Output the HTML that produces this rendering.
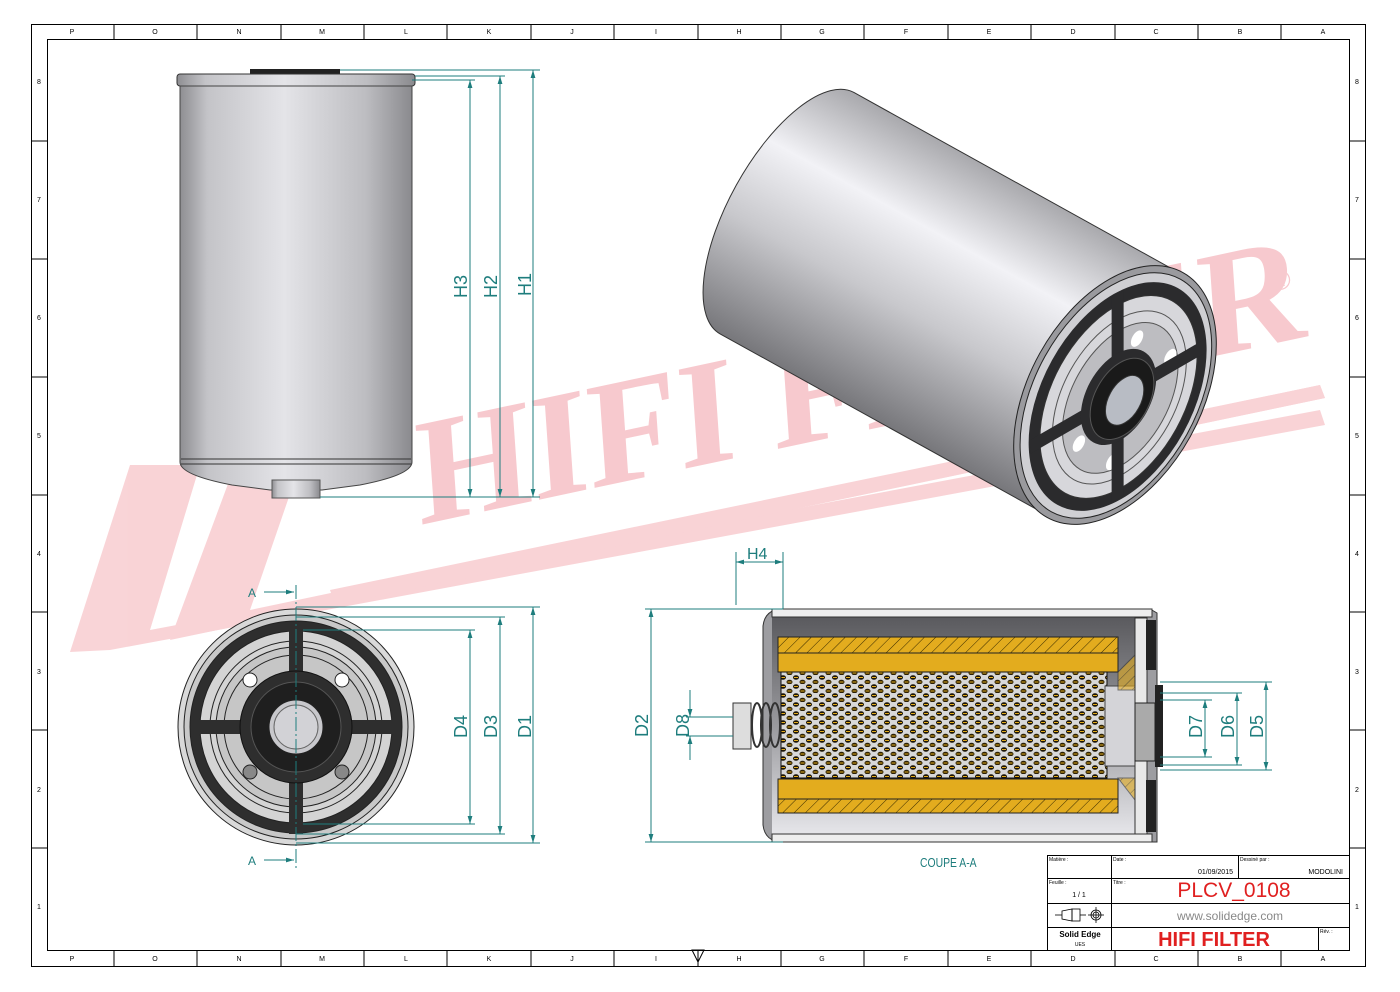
<!DOCTYPE html>
<html><head><meta charset="utf-8"><style>
html,body{margin:0;padding:0;background:#fff;}
svg{display:block;font-family:"Liberation Sans",sans-serif;}
</style></head><body>
<svg width="1400" height="992" viewBox="0 0 1400 992" xmlns="http://www.w3.org/2000/svg">
<defs>
<linearGradient id="gv" x1="0" y1="0" x2="1" y2="0">
<stop offset="0" stop-color="#8e8e92"/><stop offset="0.12" stop-color="#c4c4c8"/><stop offset="0.45" stop-color="#e4e4e8"/><stop offset="0.8" stop-color="#bdbdc1"/><stop offset="1" stop-color="#8a8a8e"/></linearGradient>
<linearGradient id="g3" x1="0" y1="0" x2="0" y2="1">
<stop offset="0" stop-color="#a9a9ad"/><stop offset="0.3" stop-color="#f2f2f6"/><stop offset="0.6" stop-color="#c8c8cc"/><stop offset="1" stop-color="#77777b"/></linearGradient>
<linearGradient id="gs" x1="0" y1="0" x2="0" y2="1">
<stop offset="0" stop-color="#5a5a5e"/><stop offset="0.5" stop-color="#9a9a9e"/><stop offset="1" stop-color="#e6e6ea"/></linearGradient>
<pattern id="hatch" width="8" height="8" patternUnits="userSpaceOnUse" patternTransform="rotate(45)"><rect width="8" height="8" fill="#e3ac1e"/><line x1="0" y1="0" x2="0" y2="8" stroke="#3a2c00" stroke-width="1"/></pattern>
<pattern id="mesh" width="13" height="9" patternUnits="userSpaceOnUse"><rect width="13" height="9" fill="#d8d8d8"/><ellipse cx="3" cy="2.5" rx="3" ry="2.3" fill="#1b1405"/><ellipse cx="9.5" cy="7" rx="3" ry="2.3" fill="#2a1f05"/><rect x="1" y="2" width="4" height="1" fill="#e3ac1e"/><rect x="7.5" y="6.5" width="4" height="1" fill="#e3ac1e"/></pattern>
<marker id="ar" viewBox="0 0 10 10" refX="10" refY="5" markerWidth="8" markerHeight="8" orient="auto-start-reverse"><path d="M0,2 L10,5 L0,8 z" fill="#1e7d7d"/></marker>
<clipPath id="faceclip"><ellipse cx="0" cy="0" rx="74" ry="122"/></clipPath>
</defs>

<!-- watermark -->
<g fill="#f7c5c9" opacity="0.75">
<polygon points="70,652 130,465 200,465 150,630 1320,410 1325,425 110,650"/>
<polygon points="170,640 235,465 300,465 250,610 1320,385 1325,398"/>
<polygon points="330,590 1320,385 1325,398 335,605"/>
<text x="0" y="0" transform="translate(420,525) rotate(-12) skewX(-8)" font-family="Liberation Serif,serif" font-weight="bold" font-size="150" fill="#f5b8be">HIFI FILTER</text>
<text x="1270" y="290" font-size="28" fill="#f5b8be">®</text>
</g>

<!-- borders -->
<rect x="31.5" y="24.5" width="1334" height="942" fill="none" stroke="#000" stroke-width="1"/>
<rect x="47.5" y="39.5" width="1302" height="911" fill="none" stroke="#000" stroke-width="1"/>
<g stroke="#000" stroke-width="1">
<line x1="114" y1="24" x2="114" y2="39"/><line x1="197" y1="24" x2="197" y2="39"/><line x1="281" y1="24" x2="281" y2="39"/><line x1="364" y1="24" x2="364" y2="39"/><line x1="447" y1="24" x2="447" y2="39"/><line x1="531" y1="24" x2="531" y2="39"/><line x1="614" y1="24" x2="614" y2="39"/><line x1="698" y1="24" x2="698" y2="39"/><line x1="781" y1="24" x2="781" y2="39"/><line x1="864" y1="24" x2="864" y2="39"/><line x1="948" y1="24" x2="948" y2="39"/><line x1="1031" y1="24" x2="1031" y2="39"/><line x1="1115" y1="24" x2="1115" y2="39"/><line x1="1198" y1="24" x2="1198" y2="39"/><line x1="1281" y1="24" x2="1281" y2="39"/>
<line x1="114" y1="950" x2="114" y2="966"/><line x1="197" y1="950" x2="197" y2="966"/><line x1="281" y1="950" x2="281" y2="966"/><line x1="364" y1="950" x2="364" y2="966"/><line x1="447" y1="950" x2="447" y2="966"/><line x1="531" y1="950" x2="531" y2="966"/><line x1="614" y1="950" x2="614" y2="966"/><line x1="698" y1="950" x2="698" y2="966"/><line x1="781" y1="950" x2="781" y2="966"/><line x1="864" y1="950" x2="864" y2="966"/><line x1="948" y1="950" x2="948" y2="966"/><line x1="1031" y1="950" x2="1031" y2="966"/><line x1="1115" y1="950" x2="1115" y2="966"/><line x1="1198" y1="950" x2="1198" y2="966"/><line x1="1281" y1="950" x2="1281" y2="966"/>
<line x1="31" y1="141" x2="47" y2="141"/><line x1="31" y1="259" x2="47" y2="259"/><line x1="31" y1="377" x2="47" y2="377"/><line x1="31" y1="495" x2="47" y2="495"/><line x1="31" y1="612" x2="47" y2="612"/><line x1="31" y1="730" x2="47" y2="730"/><line x1="31" y1="848" x2="47" y2="848"/>
<line x1="1349" y1="141" x2="1365" y2="141"/><line x1="1349" y1="259" x2="1365" y2="259"/><line x1="1349" y1="377" x2="1365" y2="377"/><line x1="1349" y1="495" x2="1365" y2="495"/><line x1="1349" y1="612" x2="1365" y2="612"/><line x1="1349" y1="730" x2="1365" y2="730"/><line x1="1349" y1="848" x2="1365" y2="848"/>
</g>
<g font-size="7" fill="#000" text-anchor="middle">
<text x="72" y="34">P</text><text x="155" y="34">O</text><text x="239" y="34">N</text><text x="322" y="34">M</text><text x="406" y="34">L</text><text x="489" y="34">K</text><text x="572" y="34">J</text><text x="656" y="34">I</text><text x="739" y="34">H</text><text x="822" y="34">G</text><text x="906" y="34">F</text><text x="989" y="34">E</text><text x="1073" y="34">D</text><text x="1156" y="34">C</text><text x="1240" y="34">B</text><text x="1323" y="34">A</text>
<text x="72" y="961">P</text><text x="155" y="961">O</text><text x="239" y="961">N</text><text x="322" y="961">M</text><text x="406" y="961">L</text><text x="489" y="961">K</text><text x="572" y="961">J</text><text x="656" y="961">I</text><text x="739" y="961">H</text><text x="822" y="961">G</text><text x="906" y="961">F</text><text x="989" y="961">E</text><text x="1073" y="961">D</text><text x="1156" y="961">C</text><text x="1240" y="961">B</text><text x="1323" y="961">A</text>
<text x="39" y="84">8</text><text x="39" y="202">7</text><text x="39" y="320">6</text><text x="39" y="438">5</text><text x="39" y="556">4</text><text x="39" y="674">3</text><text x="39" y="792">2</text><text x="39" y="909">1</text>
<text x="1357" y="84">8</text><text x="1357" y="202">7</text><text x="1357" y="320">6</text><text x="1357" y="438">5</text><text x="1357" y="556">4</text><text x="1357" y="674">3</text><text x="1357" y="792">2</text><text x="1357" y="909">1</text>
</g>
<path d="M692,950 L704,950 L698,962 z" fill="none" stroke="#000"/>

<!-- top-left side view -->
<rect x="250" y="69" width="90" height="6" fill="#222"/>
<rect x="177" y="74" width="238" height="12" rx="3" fill="url(#gv)" stroke="#333"/>
<path d="M180,86 L412,86 L412,462 Q412,475 360,485 L322,490 L270,490 L232,485 Q180,475 180,462 Z" fill="url(#gv)" stroke="#444"/>
<line x1="181" y1="459" x2="411" y2="459" stroke="#333"/>
<line x1="181" y1="464" x2="411" y2="464" stroke="#333"/>
<rect x="272" y="480" width="48" height="18" fill="url(#gv)" stroke="#555"/>

<g stroke="#1e7d7d" stroke-width="1" fill="none">
<line x1="340" y1="70" x2="540" y2="70"/><line x1="415" y1="76" x2="505" y2="76"/><line x1="412" y1="80" x2="475" y2="80"/><line x1="320" y1="497" x2="540" y2="497"/>
<line x1="470" y1="80" x2="470" y2="497" marker-start="url(#ar)" marker-end="url(#ar)"/>
<line x1="500" y1="76" x2="500" y2="497" marker-start="url(#ar)" marker-end="url(#ar)"/>
<line x1="533" y1="70" x2="533" y2="497" marker-start="url(#ar)" marker-end="url(#ar)"/>
</g>
<g fill="#1e7d7d" font-size="18">
<text transform="translate(467,298) rotate(-90)">H3</text>
<text transform="translate(497,298) rotate(-90)">H2</text>
<text transform="translate(531,296) rotate(-90)">H1</text>
</g>

<!-- 3D view -->
<g transform="translate(1115,395) rotate(29)">
<path d="M-375,-138 L0,-138 L0,138 L-375,138 A58,138 0 0 1 -375,-138 Z" fill="url(#g3)" stroke="#333"/>
<ellipse cx="0" cy="0" rx="86" ry="140" fill="#9a9a9e" stroke="#222"/>
<ellipse cx="1" cy="0" rx="81" ry="133" fill="#cfcfd3" stroke="#222"/>
<ellipse cx="3" cy="0" rx="75" ry="124" fill="#2b2b2d"/>
<ellipse cx="4" cy="0" rx="66" ry="110" fill="#d7d7db" stroke="#333"/>
<ellipse cx="5" cy="0" rx="56" ry="94" fill="none" stroke="#555"/>
<ellipse cx="6" cy="0" rx="48" ry="82" fill="#bdbdc1" stroke="#555"/>
<ellipse cx="-8" cy="-60" rx="5" ry="9" fill="#fff"/><ellipse cx="30" cy="-60" rx="5" ry="9" fill="#fff"/>
<ellipse cx="-8" cy="60" rx="5" ry="9" fill="#fff"/><ellipse cx="30" cy="60" rx="5" ry="9" fill="#fff"/>
<g clip-path="url(#faceclip)" transform="translate(3,0)">
<g transform="rotate(-29)"><rect x="-6" y="-140" width="12" height="280" fill="#2b2b2d"/></g>
<g transform="rotate(-29)"><rect x="-140" y="-6" width="280" height="12" fill="#2b2b2d" transform="rotate(-30)"/></g>
</g>
<ellipse cx="4" cy="0" rx="32" ry="52" fill="#2b2b2d"/>
<ellipse cx="8" cy="0" rx="27" ry="44" fill="#1a1a1a" stroke="#555"/>
<ellipse cx="11" cy="0" rx="16" ry="27" fill="#b8bcc4" stroke="#333"/>
</g>

<!-- front view -->
<g stroke="#222" stroke-width="1">
<circle cx="296" cy="727" r="118" fill="#d9d9d9"/>
<circle cx="296" cy="727" r="112" fill="#c8c8c8"/>
<circle cx="296" cy="727" r="106" fill="#2e2e2e"/>
<circle cx="296" cy="727" r="96" fill="#d4d4d4"/>
<circle cx="296" cy="727" r="86" fill="none"/>
<circle cx="296" cy="727" r="80" fill="#c6c6c6"/>
<circle cx="296" cy="727" r="72" fill="none"/>
</g>
<rect x="289" y="628" width="14" height="206" fill="#2e2e2e"/>
<rect x="198" y="720" width="196" height="14" fill="#2e2e2e"/>
<g fill="#fff" stroke="#222"><circle cx="250" cy="680" r="7"/><circle cx="342" cy="680" r="7"/><circle cx="250" cy="772" r="7" fill="#888"/><circle cx="342" cy="772" r="7" fill="#888"/></g>
<circle cx="296" cy="727" r="56" fill="#2e2e2e" stroke="#111"/>
<circle cx="296" cy="727" r="45" fill="#1f1f1f" stroke="#555"/>
<circle cx="296" cy="727" r="27" fill="#c8c8cc" stroke="#222"/>
<circle cx="296" cy="727" r="22" fill="#d2d2d6" stroke="#666"/>
<line x1="296" y1="585" x2="296" y2="868" stroke="#1e7d7d" stroke-dasharray="14,3,2,3"/>
<g stroke="#1e7d7d" fill="none">
<line x1="264" y1="592" x2="294" y2="592" marker-end="url(#ar)"/>
<line x1="264" y1="860" x2="294" y2="860" marker-end="url(#ar)"/>
<line x1="296" y1="607" x2="540" y2="607"/><line x1="296" y1="617" x2="505" y2="617"/><line x1="303" y1="630" x2="475" y2="630"/>
<line x1="303" y1="824" x2="475" y2="824"/><line x1="296" y1="834" x2="505" y2="834"/><line x1="296" y1="843" x2="540" y2="843"/>
<line x1="470" y1="630" x2="470" y2="824" marker-start="url(#ar)" marker-end="url(#ar)"/>
<line x1="500" y1="617" x2="500" y2="834" marker-start="url(#ar)" marker-end="url(#ar)"/>
<line x1="533" y1="607" x2="533" y2="843" marker-start="url(#ar)" marker-end="url(#ar)"/>
</g>
<g fill="#1e7d7d" font-size="18">
<text x="248" y="597" font-size="12">A</text><text x="248" y="865" font-size="12">A</text>
<text transform="translate(467,738) rotate(-90)">D4</text>
<text transform="translate(497,738) rotate(-90)">D3</text>
<text transform="translate(531,738) rotate(-90)">D1</text>
</g>

<!-- section view -->
<path d="M783,609 L1150,609 L1157,613 L1157,842 L783,842 Q765,842 763,825 L763,626 Q765,609 783,609 Z" fill="#9d9da1" stroke="#333"/>
<rect x="772" y="617" width="368" height="218" fill="url(#gs)"/>
<rect x="772" y="609" width="380" height="8" fill="#eee" stroke="#333"/>
<rect x="772" y="834" width="380" height="8" fill="#eee" stroke="#333"/>
<rect x="778" y="637" width="340" height="16" fill="url(#hatch)" stroke="#222"/>
<rect x="778" y="653" width="340" height="19" fill="#e3ac1e" stroke="#222"/>
<rect x="778" y="779" width="340" height="20" fill="#e3ac1e" stroke="#222"/>
<rect x="778" y="799" width="340" height="14" fill="url(#hatch)" stroke="#222"/>
<rect x="781" y="672" width="326" height="106" fill="url(#mesh)" stroke="#111"/>
<rect x="1105" y="686" width="30" height="80" fill="#d4d4d8" stroke="#444"/>
<polygon points="1118,672 1135,655 1140,655 1140,690 1118,690" fill="url(#hatch)" stroke="#333" opacity="0.6"/>
<polygon points="1118,778 1140,778 1140,800 1135,800" fill="url(#hatch)" stroke="#333" opacity="0.6"/>
<rect x="1135" y="618" width="12" height="216" fill="#e8e8e8" stroke="#333"/>
<rect x="1146" y="620" width="10" height="50" fill="#222"/>
<rect x="1146" y="780" width="10" height="52" fill="#222"/>
<rect x="1135" y="703" width="20" height="58" fill="#aaa" stroke="#222"/>
<rect x="1155" y="685" width="8" height="82" fill="#222"/>
<rect x="733" y="703" width="18" height="46" fill="#ddd" stroke="#333"/>
<g fill="none" stroke="#333" stroke-width="2"><ellipse cx="757" cy="725" rx="5" ry="22"/><ellipse cx="766" cy="725" rx="5" ry="22"/><ellipse cx="775" cy="725" rx="5" ry="22"/></g>
<g stroke="#1e7d7d" fill="none">
<line x1="645" y1="609" x2="783" y2="609"/><line x1="645" y1="842" x2="783" y2="842"/>
<line x1="651" y1="609" x2="651" y2="842" marker-start="url(#ar)" marker-end="url(#ar)"/>
<line x1="736" y1="552" x2="736" y2="605"/><line x1="783" y1="552" x2="783" y2="609"/>
<line x1="736" y1="562" x2="783" y2="562" marker-start="url(#ar)" marker-end="url(#ar)"/>
<line x1="686" y1="717" x2="733" y2="717"/><line x1="686" y1="736" x2="733" y2="736"/>
<line x1="690" y1="690" x2="690" y2="717" marker-end="url(#ar)"/><line x1="690" y1="760" x2="690" y2="736" marker-end="url(#ar)"/>
<line x1="1160" y1="682" x2="1272" y2="682"/><line x1="1160" y1="693" x2="1242" y2="693"/><line x1="1160" y1="700" x2="1212" y2="700"/>
<line x1="1160" y1="757" x2="1212" y2="757"/><line x1="1160" y1="765" x2="1242" y2="765"/><line x1="1160" y1="770" x2="1272" y2="770"/>
<line x1="1205" y1="700" x2="1205" y2="757" marker-start="url(#ar)" marker-end="url(#ar)"/>
<line x1="1237" y1="693" x2="1237" y2="765" marker-start="url(#ar)" marker-end="url(#ar)"/>
<line x1="1266" y1="682" x2="1266" y2="770" marker-start="url(#ar)" marker-end="url(#ar)"/>
</g>
<g fill="#1e7d7d" font-size="18">
<text transform="translate(648,737) rotate(-90)">D2</text>
<text transform="translate(689,737) rotate(-90)">D8</text>
<text x="747" y="559" font-size="16">H4</text>
<text transform="translate(1202,738) rotate(-90)">D7</text>
<text transform="translate(1234,738) rotate(-90)">D6</text>
<text transform="translate(1263,738) rotate(-90)">D5</text>
<text x="920" y="867" font-size="13" transform="translate(920,0) scale(0.8,1) translate(-920,0)">COUPE A-A</text>
</g>

<!-- title block -->
<g stroke="#000" stroke-width="1" fill="none">
<rect x="1047.5" y="855.5" width="302" height="95"/>
<line x1="1047" y1="878.5" x2="1349" y2="878.5"/>
<line x1="1047" y1="903.5" x2="1349" y2="903.5"/>
<line x1="1047" y1="927.5" x2="1349" y2="927.5"/>
<line x1="1111.5" y1="855" x2="1111.5" y2="950"/>
<line x1="1238.5" y1="855" x2="1238.5" y2="878"/>
<line x1="1318.5" y1="927" x2="1318.5" y2="950"/>
</g>
<g font-size="5" fill="#000">
<text x="1049" y="861">Matière :</text><text x="1113" y="861">Date :</text><text x="1240" y="861">Dessiné par :</text>
<text x="1049" y="884">Feuille :</text><text x="1113" y="884">Titre :</text><text x="1320" y="933">Rév. :</text>
</g>
<text x="1233" y="874" font-size="7" text-anchor="end">01/09/2015</text>
<text x="1343" y="874" font-size="7" text-anchor="end">MODOLINI</text>
<text x="1079" y="897" font-size="7" text-anchor="middle">1 / 1</text>
<text x="1234" y="897" font-size="21" fill="#e02020" text-anchor="middle">PLCV_0108</text>
<text x="1230" y="920" font-size="12" fill="#888" text-anchor="middle">www.solidedge.com</text>
<text x="1214" y="946" font-size="20" font-weight="bold" fill="#e02020" text-anchor="middle">HIFI FILTER</text>
<text x="1080" y="937" font-size="8" font-weight="bold" text-anchor="middle">Solid Edge</text>
<text x="1080" y="946" font-size="5" text-anchor="middle">UES</text>
<g stroke="#000" fill="none" stroke-width="0.8">
<line x1="1055" y1="915" x2="1062" y2="915"/><path d="M1062,911 L1072,909 L1072,921 L1062,919 Z"/><rect x="1072" y="909" width="8" height="12"/><line x1="1080" y1="915" x2="1086" y2="915"/>
<circle cx="1096" cy="915" r="5"/><circle cx="1096" cy="915" r="3"/><line x1="1088" y1="915" x2="1104" y2="915"/><line x1="1096" y1="907" x2="1096" y2="923"/>
</g>
</svg>
</body></html>
